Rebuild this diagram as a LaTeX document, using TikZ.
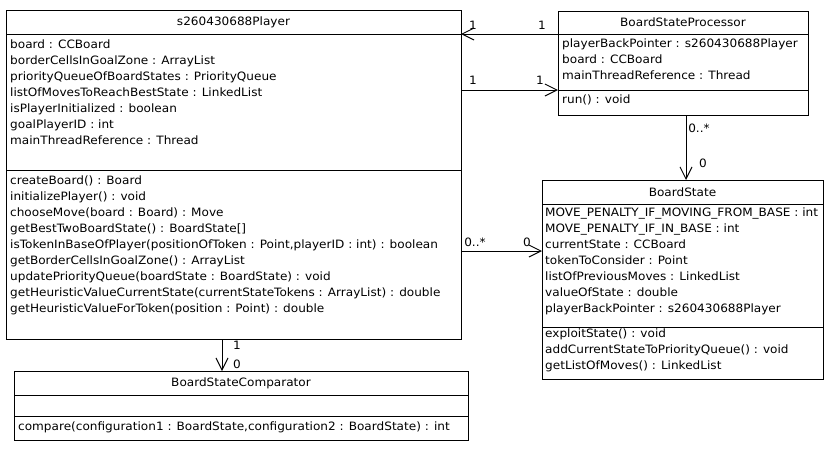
\documentclass[tikz,border=0pt]{standalone}
\usepackage{fontspec}
\setmainfont{DejaVu Sans}[FakeStretch=1.05]
\usetikzlibrary{arrows.meta,positioning}
\tikzset{
  classpart/.style={draw, line width=1pt, inner sep=0pt, outer sep=0pt, anchor=north west},
  members/.style={align=left, anchor=north west, inner xsep=4pt, inner ysep=0pt},
  assoc/.style={-{Straight Barb[length=12pt, width=12pt]}, line width=1pt},
  mult/.style={inner sep=0pt},
}

\begin{document}
\begin{tikzpicture}[x=1pt, y=-1pt, font=\fontsize{11.5}{16}\selectfont]
    \useasboundingbox (0,0) rectangle (831,448);
    % s260430688Player
    \node[classpart, minimum width=455pt, minimum height=24pt] (playerName) at (6,10) {s260430688Player};
    \node[classpart, minimum width=455pt, minimum height=136pt] (playerAttr) at (playerName.south west) {};
    \node[classpart, minimum width=455pt, minimum height=169pt] (playerMeth) at (playerAttr.south west) {};
    \node[members] at ([yshift=-5.3pt]playerAttr.north west) {board : CCBoard\\ borderCellsInGoalZone : ArrayList\\ priorityQueueOfBoardStates : PriorityQueue\\ listOfMovesToReachBestState : LinkedList\\ isPlayerInitialized : boolean\\ goalPlayerID : int\\ mainThreadReference : Thread};
    \node[members] at ([yshift=-5.8pt]playerMeth.north west) {createBoard() : Board\\ initializePlayer() : void\\ chooseMove(board : Board) : Move\\ getBestTwoBoardState() : BoardState[]\\ isTokenInBaseOfPlayer(positionOfToken : Point,playerID : int) : boolean\\ getBorderCellsInGoalZone() : ArrayList\\ updatePriorityQueue(boardState : BoardState) : void\\ getHeuristicValueCurrentState(currentStateTokens : ArrayList) : double\\ getHeuristicValueForToken(position : Point) : double};
    % BoardStateProcessor
    \node[classpart, minimum width=250pt, minimum height=23pt] (bspName) at (558,11) {BoardStateProcessor};
    \node[classpart, minimum width=250pt, minimum height=56pt] (bspAttr) at (bspName.south west) {};
    \node[classpart, minimum width=250pt, minimum height=25pt] (bspMeth) at (bspAttr.south west) {};
    \node[members] at ([yshift=-4.3pt]bspAttr.north west) {playerBackPointer : s260430688Player\\ board : CCBoard\\ mainThreadReference : Thread};
    \node[members] at ([yshift=-4.3pt]bspMeth.north west) {run() : void};
    % BoardState
    \node[classpart, minimum width=281pt, minimum height=24pt] (stateName) at (542,180) {BoardState};
    \node[classpart, minimum width=281pt, minimum height=123pt] (stateAttr) at (stateName.south west) {};
    \node[classpart, minimum width=281pt, minimum height=52pt] (stateMeth) at (stateAttr.south west) {};
    \node[members, inner xsep=3pt] at ([yshift=-3.3pt]stateAttr.north west) {MOVE\_PENALTY\_IF\_MOVING\_FROM\_BASE : int\\ MOVE\_PENALTY\_IF\_IN\_BASE : int\\ currentState : CCBoard\\ tokenToConsider : Point\\ listOfPreviousMoves : LinkedList\\ valueOfState : double\\ playerBackPointer : s260430688Player};
    \node[members, inner xsep=3pt] at ([yshift=-1.3pt]stateMeth.north west) {exploitState() : void\\ addCurrentStateToPriorityQueue() : void\\ getListOfMoves() : LinkedList};
    % BoardStateComparator
    \node[classpart, minimum width=454pt, minimum height=24pt] (cmpName) at (14,371) {BoardStateComparator};
    \node[classpart, minimum width=454pt, minimum height=21pt] (cmpAttr) at (cmpName.south west) {};
    \node[classpart, minimum width=454pt, minimum height=24pt] (cmpMeth) at (cmpAttr.south west) {};
    \node[members] at ([yshift=-5.3pt]cmpMeth.north west) {compare(configuration1 : BoardState,configuration2 : BoardState) : int};
    % associations
    \draw[assoc] (bspName.south west) -- (playerName.south east)
      node[mult, pos=0, xshift=-16pt, yshift=9pt] {1}
      node[mult, pos=1, xshift=12pt, yshift=9pt] {1};
    \draw[assoc] (playerAttr.east |- bspAttr.south) -- (bspAttr.south west)
      node[mult, pos=0, xshift=12pt, yshift=10pt] {1}
      node[mult, pos=1, xshift=-18pt, yshift=10pt] {1};
    \draw[assoc] ([xshift=3pt]bspMeth.south) -- ([xshift=3pt]bspMeth.south |- stateName.north)
      node[mult, pos=0, xshift=13pt, yshift=-13pt] {0..*}
      node[mult, pos=1, xshift=17pt, yshift=17pt] {0};
    \draw[assoc] ([yshift=3.5pt]playerMeth.east) -- ([yshift=3.5pt]playerMeth.east -| stateAttr.west)
      node[mult, pos=0, xshift=14pt, yshift=9pt] {0..*}
      node[mult, pos=1, xshift=-15pt, yshift=9pt] {0};
    \draw[assoc] ([xshift=-11.5pt]playerMeth.south) -- ([xshift=-11.5pt]playerMeth.south |- cmpName.north)
      node[mult, pos=0, xshift=15pt, yshift=-6pt] {1}
      node[mult, pos=1, xshift=15pt, yshift=7pt] {0};
\end{tikzpicture}
\end{document}
